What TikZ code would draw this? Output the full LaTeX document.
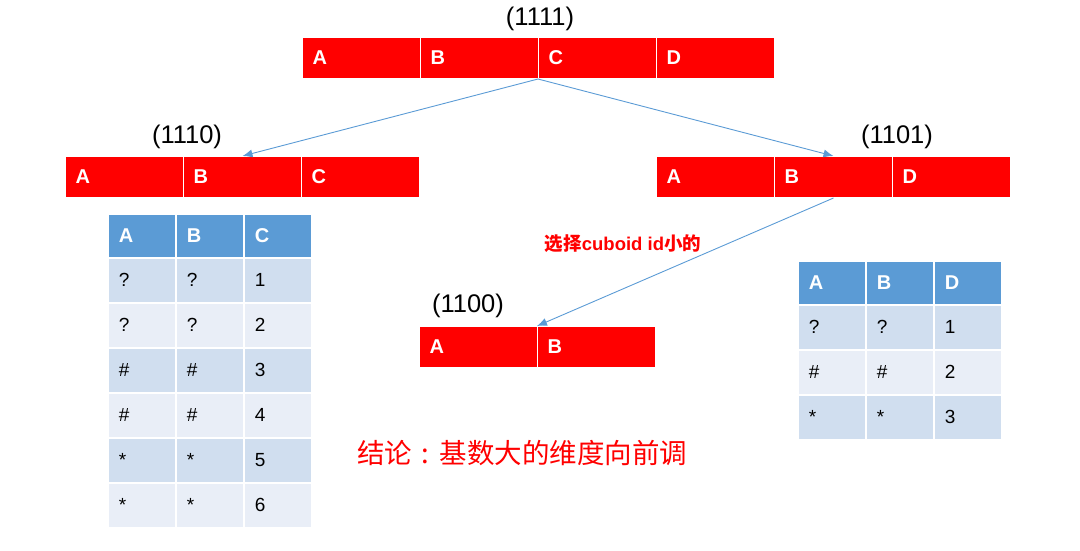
\documentclass[tikz,border=0pt]{standalone}
\usepackage{fontspec}
\setmainfont{Liberation Sans}
\newfontfamily\cjk{Noto Sans CJK SC}
\usetikzlibrary{arrows.meta}
\definecolor{barred}{HTML}{FF0000}
\definecolor{hdrblue}{HTML}{5B9BD5}
\definecolor{rowdark}{HTML}{D0DEEF}
\definecolor{rowlight}{HTML}{E9EEF7}
\definecolor{arrowblue}{HTML}{5B9BD5}
\tikzset{
  barcell/.style={fill=barred, draw=white, line width=1pt, minimum height=41pt,
    inner xsep=10pt, inner ysep=0pt, text width=98pt, align=left, anchor=north west,
    text=white, font=\fontsize{20}{20}\selectfont\bfseries},
  tcell/.style={draw=white, line width=1.5pt, minimum height=45pt,
    inner xsep=11pt, inner ysep=0pt, text width=46pt, align=left, anchor=north west,
    font=\fontsize{19}{19}\selectfont},
  hcell/.style={tcell, fill=hdrblue, minimum height=44pt, text=white,
    font=\fontsize{20}{20}\selectfont\bfseries},
  idlabel/.style={anchor=base, font=\fontsize{25.5}{25.5}\selectfont},
  conn/.style={draw=arrowblue, line width=0.9pt, -{Latex[length=10pt,width=8pt]}},
}
\begin{document}
\begin{tikzpicture}[x=1pt,y=-1pt]
\useasboundingbox (0,0) rectangle (1080,550);

% top bar (1111)
\node[barcell] (ta) at (302,37) {A};
\node[barcell] (tb) at (420,37) {B};
\node[barcell] (tc) at (538,37) {C};
\node[barcell] (td) at (656,37) {D};
\node[idlabel] (tlab) at (540,25) {(1111)};

% left bar (1110)
\node[barcell] (la) at (65,156) {A};
\node[barcell] (lb) at (183,156) {B};
\node[barcell] (lc) at (301,156) {C};
\node[idlabel] (llab) at (187,143) {(1110)};

% right bar (1101)
\node[barcell] (ra) at (656,156) {A};
\node[barcell] (rb) at (774,156) {B};
\node[barcell] (rd) at (892,156) {D};
\node[idlabel] (rlab) at (897,143) {(1101)};

% bottom bar (1100)
\node[barcell] (ba) at (419,326) {A};
\node[barcell] (bb) at (537,326) {B};
\node[idlabel] (blab) at (468,312) {(1100)};

% connectors
\draw[conn] (tc.south west) -- (lb.north);
\draw[conn] (tc.south west) -- (rb.north);
\draw[conn] (rb.south) -- (bb.north west);

% middle label
\node[text=barred, font=\fontsize{18.5}{18.5}\selectfont\bfseries] (choose) at (623,244)
  {{\cjk 选择}cuboid id{\cjk 小的}};

% conclusion
\node[text=barred, font=\cjk\fontsize{27.5}{27.5}\selectfont] (concl) at (522,453)
  {结论\makebox[27.5pt][c]{:}基数大的维度向前调};

% left table
\node[hcell] (lt-0-1) at (107,213) {A};
\node[hcell] (lt-0-2) at (175,213) {B};
\node[hcell] (lt-0-3) at (243,213) {C};
\foreach \r/\col/\a/\b/\c in {1/rowdark/?/?/1, 2/rowlight/?/?/2, 3/rowdark/\#/\#/3,
    4/rowlight/\#/\#/4, 5/rowdark/*/*/5, 6/rowlight/*/*/6} {
  \node[tcell, fill=\col] (lt-\r-1) at (107,{257+(\r-1)*45}) {\a};
  \node[tcell, fill=\col] (lt-\r-2) at (175,{257+(\r-1)*45}) {\b};
  \node[tcell, fill=\col] (lt-\r-3) at (243,{257+(\r-1)*45}) {\c};
}

% right table
\node[hcell] (rt-0-1) at (797,260) {A};
\node[hcell] (rt-0-2) at (865,260) {B};
\node[hcell] (rt-0-3) at (933,260) {D};
\foreach \r/\col/\a/\b/\c in {1/rowdark/?/?/1, 2/rowlight/\#/\#/2, 3/rowdark/*/*/3} {
  \node[tcell, fill=\col] (rt-\r-1) at (797,{304+(\r-1)*45}) {\a};
  \node[tcell, fill=\col] (rt-\r-2) at (865,{304+(\r-1)*45}) {\b};
  \node[tcell, fill=\col] (rt-\r-3) at (933,{304+(\r-1)*45}) {\c};
}
\end{tikzpicture}
\end{document}
